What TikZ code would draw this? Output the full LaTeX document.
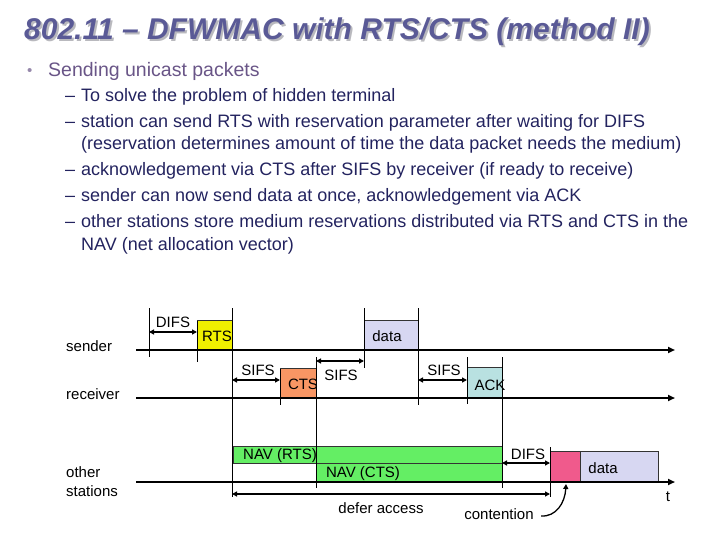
\documentclass[tikz,border=0pt]{standalone}
\usepackage{fontspec}
\setmainfont{Liberation Sans}
\usetikzlibrary{arrows.meta}
\definecolor{titlecol}{RGB}{90,90,150}
\definecolor{shadowcol}{RGB}{185,185,190}
\definecolor{maincol}{RGB}{105,85,135}
\definecolor{subcol}{RGB}{35,35,95}
\definecolor{rtscol}{RGB}{240,240,0}
\definecolor{ctscol}{RGB}{248,150,100}
\definecolor{ackcol}{RGB}{185,225,225}
\definecolor{datacol}{RGB}{215,215,242}
\definecolor{pinkcol}{RGB}{240,90,140}
\definecolor{navcol}{RGB}{100,238,100}
\tikzset{
  timeline/.style={line width=2.2pt, -{Triangle[length=7pt,width=6pt]}},
  dimarrow/.style={line width=1.6pt, {Triangle[length=5pt,width=5pt]}-{Triangle[length=5pt,width=5pt]}},
  tickline/.style={line width=0.8pt},
  framebox/.style={draw=black!80, line width=0.6pt, inner sep=0, anchor=south west},
  lbl/.style={font=\fontsize{15}{17}\selectfont, inner sep=0},
  sublbl/.style={anchor=base west, inner sep=0, text=subcol, font=\fontsize{18}{21}\selectfont},
}
\begin{document}
\begin{tikzpicture}[x=1pt,y=-1pt]
\useasboundingbox (0,0) rectangle (720,540);
% title
\node[anchor=base west, inner sep=0, text=shadowcol, font=\fontsize{30}{36}\selectfont\bfseries\itshape] (titleshadow) at (26,42) {802.11 – DFWMAC with RTS/CTS (method II)};
\node[anchor=base west, inner sep=0, text=titlecol, font=\fontsize{30}{36}\selectfont\bfseries\itshape] (title) at (24,40) {802.11 – DFWMAC with RTS/CTS (method II)};
% bullets
\node[anchor=base west, inner sep=0, text=maincol!70, font=\fontsize{15}{18}\selectfont] (b0) at (27,76) {•};
\node[anchor=base west, inner sep=0, text=maincol, font=\fontsize{19.5}{23}\selectfont] (t0) at (48,77) {Sending unicast packets};
\foreach \yy/\nm in {102/d1,128/d2,176/d3,202/d4,228/d5}{
  \node[sublbl] (\nm) at (65,\yy) {–};
}
\node[sublbl] (t1) at (81,102) {To solve the problem of hidden terminal};
\node[sublbl] (t2) at (81,128) {station can send RTS with reservation parameter after waiting for DIFS};
\node[sublbl] (t2b) at (81,150) {(reservation determines amount of time the data packet needs the medium)};
\node[sublbl] (t3) at (81,176) {acknowledgement via CTS after SIFS by receiver (if ready to receive)};
\node[sublbl] (t4) at (81,202) {sender can now send data at once, acknowledgement via ACK};
\node[sublbl] (t5) at (81,228) {other stations store medium reservations distributed via RTS and CTS in the};
\node[sublbl] (t5b) at (81,250) {NAV (net allocation vector)};

% station labels
\node[lbl, anchor=base west] (sender) at (66,351) {sender};
\node[lbl, anchor=base west] (receiver) at (66,399) {receiver};
\node[lbl, anchor=base west, align=left] (other) at (66,477) {other};
\node[lbl, anchor=base west, align=left] (stations) at (66,496) {stations};

% coordinates of timelines
\coordinate (s0) at (136,350); \coordinate (s1) at (675,350);
\coordinate (r0) at (136,398); \coordinate (r1) at (675,398);
\coordinate (o0) at (136,482); \coordinate (o1) at (675,482);

% boxes
\node[framebox, fill=rtscol, minimum width=35pt, minimum height=29pt] (rts) at (197,350) {};
\node[framebox, fill=datacol, minimum width=54pt, minimum height=29pt] (data1) at (364,350) {};
\node[framebox, fill=ctscol, minimum width=36pt, minimum height=29pt] (cts) at (280,398) {};
\node[framebox, fill=ackcol, minimum width=35pt, minimum height=30pt] (ack) at (467,398) {};
\node[framebox, fill=navcol, minimum width=269pt, minimum height=17pt] (navrts) at (233,464) {};
\node[framebox, fill=navcol, minimum width=186pt, minimum height=18pt] (navcts) at (316,482) {};
\node[framebox, fill=pinkcol, minimum width=30pt, minimum height=30pt] (cont) at (550,482) {};
\node[framebox, fill=datacol, minimum width=78pt, minimum height=30pt] (data2) at (580,482) {};

% timelines
\draw[timeline] (s0) -- (s1);
\draw[timeline] (r0) -- (r1);
\draw[timeline] (o0) -- (o1);

% vertical tick lines
\coordinate (v1a) at (149,308); \coordinate (v1b) at (149,357);
\coordinate (v2a) at (197,321); \coordinate (v2b) at (197,362);
\coordinate (v3a) at (232,308); \coordinate (v3b) at (232,497);
\coordinate (v4a) at (280,369); \coordinate (v4b) at (280,405);
\coordinate (v5a) at (316,357); \coordinate (v5b) at (316,488);
\coordinate (v6a) at (364,308); \coordinate (v6b) at (364,368);
\coordinate (v7a) at (418,308); \coordinate (v7b) at (418,405);
\coordinate (v8a) at (467,357); \coordinate (v8b) at (467,404);
\coordinate (v9a) at (502,357); \coordinate (v9b) at (502,488);
\coordinate (v10a) at (550,447); \coordinate (v10b) at (550,497);
\foreach \i in {1,...,10}{ \draw[tickline] (v\i a) -- (v\i b); }

% dimension arrows
\coordinate (a1a) at (149,332); \coordinate (a1b) at (197,332);
\coordinate (a2a) at (232,380); \coordinate (a2b) at (280,380);
\coordinate (a3a) at (316,361); \coordinate (a3b) at (364,361);
\coordinate (a4a) at (418,380); \coordinate (a4b) at (467,380);
\coordinate (a5a) at (502,463); \coordinate (a5b) at (550,463);
\coordinate (a6a) at (232,494); \coordinate (a6b) at (550,494);
\foreach \i in {1,...,6}{ \draw[dimarrow] (a\i a) -- (a\i b); }

% labels
\node[lbl] (difs1) at (173,322) {DIFS};
\node[lbl] (rtsl) at (217,336) {RTS};
\node[lbl] (datal1) at (387,336) {data};
\node[lbl] (sifs1) at (258,370) {SIFS};
\node[lbl] (ctsl) at (303,384) {CTS};
\node[lbl] (sifs2) at (341,375) {SIFS};
\node[lbl] (sifs3) at (444,370) {SIFS};
\node[lbl] (ackl) at (490,385) {ACK};
\node[lbl] (navrtsl) at (280,456) {NAV (RTS)};
\node[lbl] (navctsl) at (363,474) {NAV (CTS)};
\node[lbl] (difs2) at (528,454) {DIFS};
\node[lbl] (datal2) at (603,468) {data};
\node[lbl] (tl) at (668,497) {t};
\node[lbl] (defer) at (381,508) {defer access};
\node[lbl] (contl) at (499,514) {contention};

% contention arrow
\coordinate (cstart) at (541,516);
\coordinate (cend) at (566,484);
\draw[line width=1.3pt, -{Triangle[length=5pt,width=5pt]}] (cstart) .. controls (556,517) and (565,503) .. (cend);
\end{tikzpicture}
\end{document}
